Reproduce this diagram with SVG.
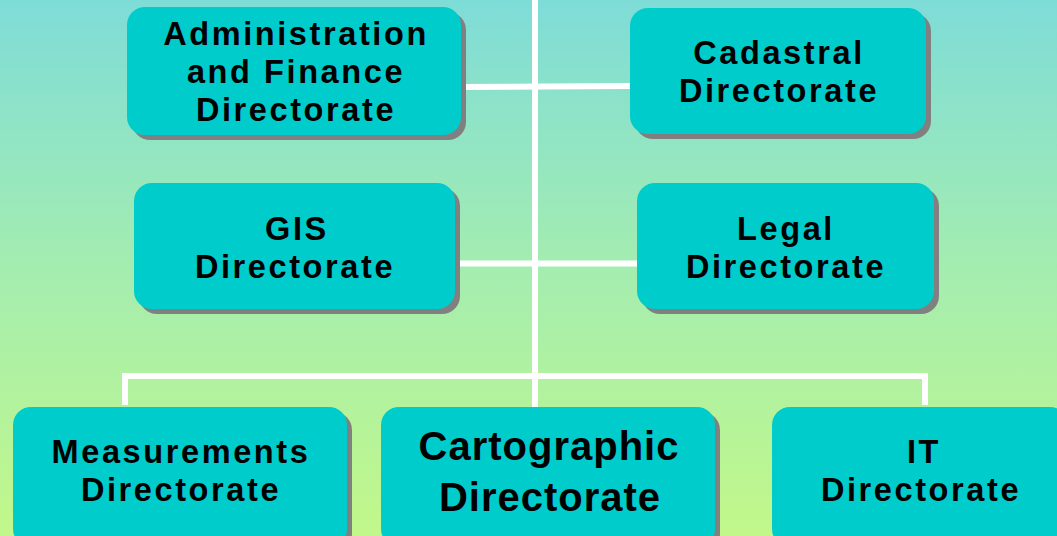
<svg xmlns="http://www.w3.org/2000/svg" width="1057" height="536" viewBox="0 0 1057 536">
<defs>
<linearGradient id="bg" x1="0" y1="0" x2="0" y2="1">
<stop offset="0" stop-color="#7edcd8"/>
<stop offset="0.5" stop-color="#a4edb0"/>
<stop offset="1" stop-color="#c2f88a"/>
</linearGradient>
</defs>
<style>
.sh{fill:#808080}
.bx{fill:#00cccc}
.t{font-family:"Liberation Sans",Arial,sans-serif;font-weight:bold;font-size:32.5px;letter-spacing:2.6px;fill:#000;text-anchor:middle}
.big{font-family:"Liberation Sans",Arial,sans-serif;font-weight:bold;font-size:40px;letter-spacing:1px;fill:#000;text-anchor:middle}
.ln{stroke:#fff;stroke-width:6;fill:none}
</style>
<rect width="1057" height="536" fill="url(#bg)"/>
<g id="connectors">
<line class="ln" x1="535" y1="0" x2="535" y2="407"/>
<line class="ln" x1="461" y1="87" x2="630" y2="86"/>
<line class="ln" x1="455" y1="263.5" x2="637" y2="263.5"/>
<polyline class="ln" points="125,405 125,376 925,376 925,405"/>
</g>
<g id="admin">
<rect class="sh" x="132" y="12" width="334" height="128" rx="18"/>
<rect class="bx" x="127" y="7" width="334" height="128" rx="18"/>
<text class="t" x="296" y="45">Administration</text>
<text class="t" x="296" y="83">and Finance</text>
<text class="t" x="296" y="121">Directorate</text>
</g>
<g id="cadastral">
<rect class="sh" x="635" y="13" width="296" height="126" rx="18"/>
<rect class="bx" x="630" y="8" width="296" height="126" rx="18"/>
<text class="t" x="779" y="64">Cadastral</text>
<text class="t" x="779" y="102">Directorate</text>
</g>
<g id="gis">
<rect class="sh" x="139" y="188" width="321" height="126" rx="18"/>
<rect class="bx" x="134" y="183" width="321" height="126" rx="18"/>
<text class="t" x="297" y="240" letter-spacing="6">GIS</text>
<text class="t" x="295" y="278">Directorate</text>
</g>
<g id="legal">
<rect class="sh" x="642" y="188" width="297" height="126" rx="18"/>
<rect class="bx" x="637" y="183" width="297" height="126" rx="18"/>
<text class="t" x="786" y="240">Legal</text>
<text class="t" x="786" y="278">Directorate</text>
</g>
<g id="measurements">
<rect class="sh" x="18" y="412" width="334" height="140" rx="18"/>
<rect class="bx" x="13" y="407" width="334" height="140" rx="18"/>
<text class="t" x="181" y="463">Measurements</text>
<text class="t" x="181" y="501">Directorate</text>
</g>
<g id="cartographic">
<rect class="sh" x="386" y="412" width="334" height="140" rx="18"/>
<rect class="bx" x="381" y="407" width="334" height="140" rx="18"/>
<text class="big" x="549" y="460">Cartographic</text>
<text class="big" x="550" y="511">Directorate</text>
</g>
<g id="it">
<rect class="sh" x="777" y="412" width="296" height="140" rx="18"/>
<rect class="bx" x="772" y="407" width="296" height="140" rx="18"/>
<text class="t" x="924" y="463" letter-spacing="8">IT</text>
<text class="t" x="921" y="501">Directorate</text>
</g>
</svg>
